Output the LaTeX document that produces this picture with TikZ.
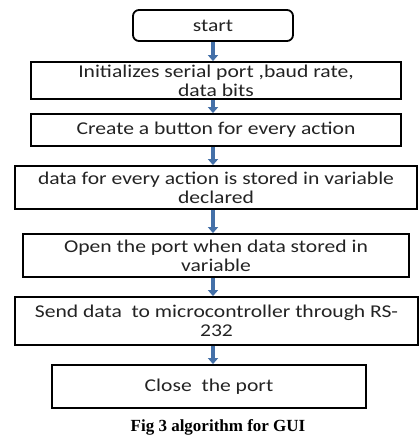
\documentclass[tikz,border=0pt]{standalone}
\usepackage{fontspec}
\setmainfont{Carlito}[FakeStretch=1.2]
\newfontfamily\capfont{Liberation Serif}
\usetikzlibrary{arrows.meta}
\definecolor{flowblue}{RGB}{68,112,168}
\definecolor{boxtext}{RGB}{35,35,35}
\begin{document}
\begin{tikzpicture}[x=1pt,y=1pt,
  stepbox/.style={draw=black,line width=1.8pt,fill=white,inner sep=0pt,align=center,
    text=boxtext,font=\fontsize{18}{19}\selectfont},
  flow/.style={draw=flowblue,line width=4pt,-{Triangle[width=10pt,length=6pt]}}]
\useasboundingbox (0,0) rectangle (420,440);
\fill[white] (0,0) rectangle (420,440);
% process steps
\node[stepbox,rounded corners=6pt,minimum width=160pt,minimum height=31pt] (start) at (213,414.5) {start};
\node[stepbox,minimum width=370pt,minimum height=37pt] (init) at (216,359.5) {Initializes serial port ,baud rate,\\data bits};
\node[stepbox,minimum width=370pt,minimum height=32pt] (button) at (216,310) {Create a button for every action};
\node[stepbox,minimum width=402pt,minimum height=43pt] (store) at (216,252.5) {data for every action is stored in variable\\declared};
\node[stepbox,minimum width=386pt,minimum height=43pt] (open) at (216,184.5) {Open the port when data stored in\\variable};
\node[stepbox,minimum width=403pt,minimum height=48pt] (send) at (216.5,119) {Send data\ \ to microcontroller through RS-\\232};
\node[stepbox,minimum width=314pt,minimum height=43pt] (close) at (209,53.5) {Close\ \ the port};
% connectors
\draw[flow] (start.south) -- (start.south |- init.north);
\draw[flow] (start.south |- init.south) -- (start.south |- button.north);
\draw[flow] (start.south |- button.south) -- (start.south |- store.north);
\draw[flow] (start.south |- store.south) -- (start.south |- open.north);
\draw[flow] (start.south |- open.south) -- (start.south |- send.north);
\draw[flow] (start.south |- send.south) -- (start.south |- close.north);
% caption
\node[font=\capfont\bfseries\fontsize{17}{19}\selectfont] (caption) at (218,13) {Fig 3 algorithm for GUI};
\end{tikzpicture}
\end{document}
